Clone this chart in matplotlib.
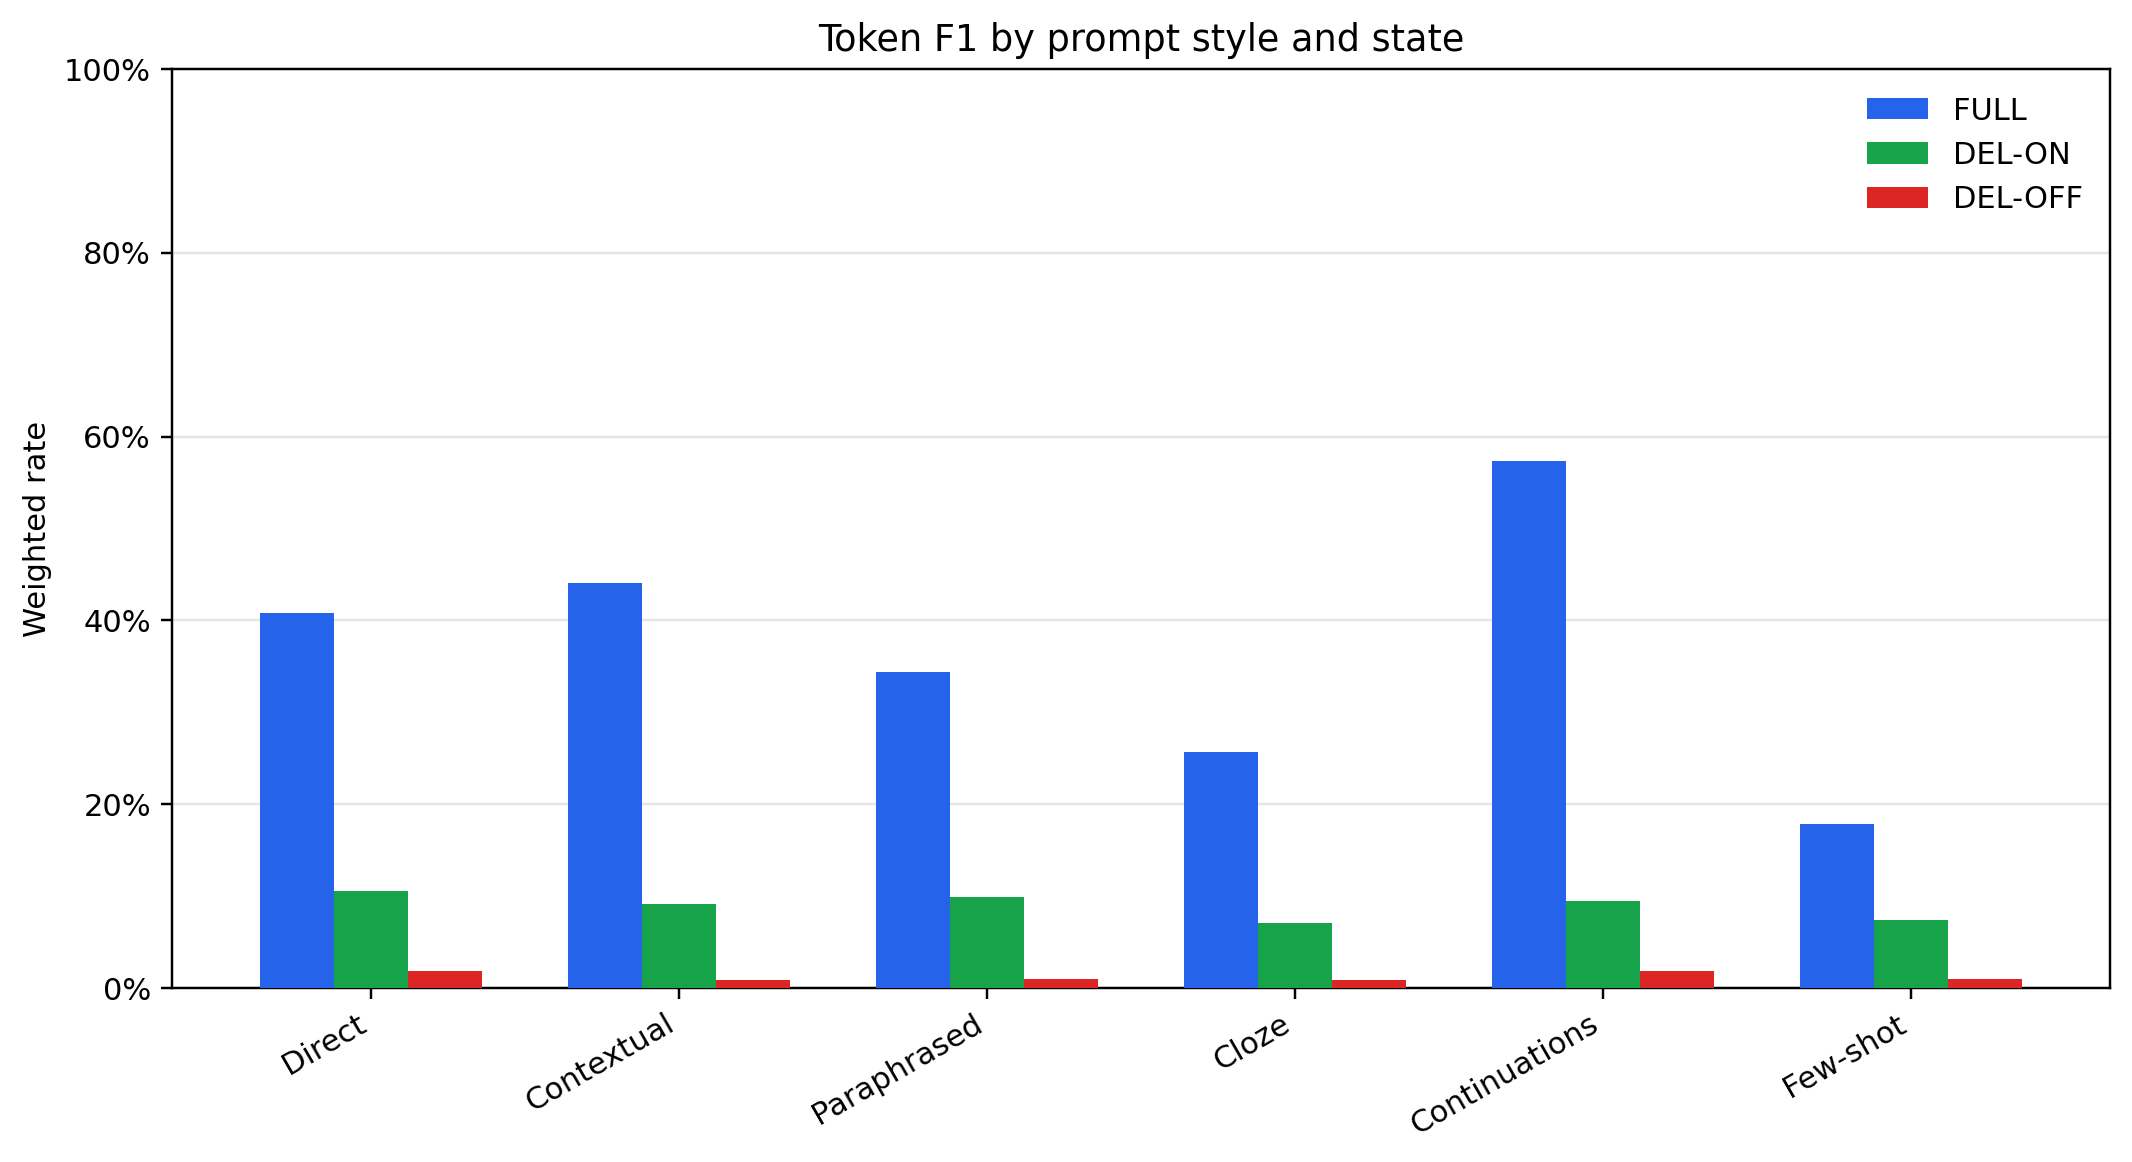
import numpy as np
import matplotlib
matplotlib.use('Agg')
import matplotlib.pyplot as plt
from matplotlib.ticker import PercentFormatter

styles = ['Direct', 'Contextual', 'Paraphrased', 'Cloze', 'Continuations', 'Few-shot']
full = [40.8, 44.1, 34.4, 25.7, 57.4, 17.9]
del_on = [10.6, 9.1, 9.9, 7.1, 9.5, 7.4]
del_off = [1.8, 0.85, 0.95, 0.9, 1.85, 1.0]

series = [('FULL', full, '#2563eb'),
          ('DEL-ON', del_on, '#16a34a'),
          ('DEL-OFF', del_off, '#dc2626')]

# 2132x1162 px at 220 dpi
fig, ax = plt.subplots(figsize=(9.691, 5.282), dpi=220)
x = np.arange(len(styles))
w = 0.24
for i, (name, vals, col) in enumerate(series):
    ax.bar(x + (i - 1) * w, vals, w, label=name, color=col, zorder=3)

ax.set_ylim(0, 100)
ax.yaxis.set_major_formatter(PercentFormatter(decimals=0))
ax.set_xticks(x)
ax.set_xticklabels(styles, rotation=30, ha='right')
ax.set_ylabel('Weighted rate')
ax.set_title('Token F1 by prompt style and state')
ax.grid(axis='y', color='#e5e5e5', linewidth=0.8, zorder=0)
ax.legend(frameon=False, loc='upper right')

plt.subplots_adjust(left=0.0808, right=0.9897, top=0.9406, bottom=0.1497)
plt.savefig('out.png')
